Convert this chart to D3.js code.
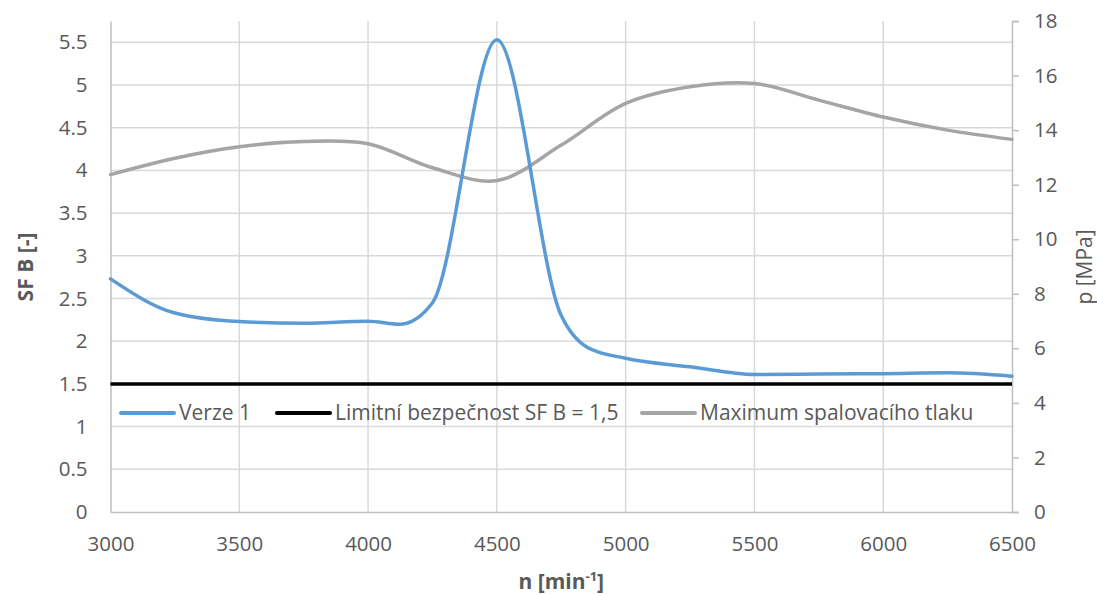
<!DOCTYPE html>
<html>
<head>
<meta charset="utf-8">
<script src="https://cdn.jsdelivr.net/npm/d3@7"></script>
<style>
  html, body { margin: 0; padding: 0; background: #fff; }
  svg text { font-family: "Open Sans", "Noto Sans", sans-serif; fill: #595959; }
</style>
</head>
<body>
<svg id="chart" width="1097" height="594"></svg>
<script>
// ---- data ----
const rpmVerze = [3000, 3250, 3500, 3750, 4000, 4125, 4250, 4500, 4750, 4850, 5000, 5250, 5500, 5750, 6000, 6250, 6500];
const sfVerze  = [2.73, 2.33, 2.23, 2.21, 2.235, 2.20, 2.45, 5.53, 2.30, 1.93, 1.80, 1.70, 1.61, 1.615, 1.62, 1.63, 1.59];

const rpmTlak = [3000, 3250, 3500, 3750, 4000, 4250, 4500, 4750, 5000, 5250, 5500, 5750, 6000, 6250, 6500];
const pTlak   = [12.37, 12.97, 13.39, 13.58, 13.50, 12.62, 12.15, 13.45, 14.98, 15.59, 15.71, 15.10, 14.48, 14.00, 13.66];

const rpmLimit = [3000, 6500];
const sfLimit  = [1.5, 1.5];

const xTicks = [3000, 3500, 4000, 4500, 5000, 5500, 6000, 6500];
const yLeftTicks = [0, 0.5, 1, 1.5, 2, 2.5, 3, 3.5, 4, 4.5, 5, 5.5];
const yRightTicks = [0, 2, 4, 6, 8, 10, 12, 14, 16, 18];

const seriesNames = ["Verze 1", "Limitní bezpečnost SF B = 1,5", "Maximum spalovacího tlaku"];
const seriesColors = ["#5B9BD5", "#000000", "#A5A5A5"];

// ---- layout ----
const svg = d3.select("#chart");
const L = 110.5, R = 1012, T = 21, B = 512;

const x = d3.scaleLinear().domain([3000, 6500]).range([L, R]);
const yL = d3.scaleLinear().domain([0, 5.75]).range([B, T]);
const yR = d3.scaleLinear().domain([0, 18]).range([B, T]);

const fs = 20.5;

// gridlines
const grid = svg.append("g");
grid.selectAll(".hg").data(yLeftTicks.filter(d => d > 0)).enter().append("line")
  .attr("x1", L).attr("x2", R)
  .attr("y1", d => yL(d)).attr("y2", d => yL(d))
  .attr("stroke", "#D9D9D9").attr("stroke-width", 1.5);
grid.selectAll(".vg").data(xTicks.filter(d => d > 3000 && d < 6500)).enter().append("line")
  .attr("x1", d => x(d)).attr("x2", d => x(d))
  .attr("y1", T).attr("y2", B)
  .attr("stroke", "#D9D9D9").attr("stroke-width", 1.5);

// axes
const xAxis = d3.axisBottom(x).tickValues(xTicks).tickSize(0).tickPadding(24).tickFormat(d3.format("d"));
const gx = svg.append("g").attr("transform", `translate(0,${B})`).call(xAxis);
gx.select(".domain").attr("stroke", "#BFBFBF").attr("stroke-width", 1.5);
gx.selectAll("text").style("font-size", fs + "px").attr("fill", "#595959");

const yAxisL = d3.axisLeft(yL).tickValues(yLeftTicks).tickSize(0).tickPadding(23).tickFormat(d => String(d));
const gyl = svg.append("g").attr("transform", `translate(${L},0)`).call(yAxisL);
gyl.select(".domain").attr("stroke", "#BFBFBF").attr("stroke-width", 1.5);
gyl.selectAll("text").style("font-size", fs + "px").attr("fill", "#595959");

const yAxisR = d3.axisRight(yR).tickValues(yRightTicks).tickSize(7).tickPadding(15).tickFormat(d => String(d));
const gyr = svg.append("g").attr("transform", `translate(${R},0)`).call(yAxisR);
gyr.select(".domain").attr("stroke", "#BFBFBF").attr("stroke-width", 1.5);
gyr.selectAll(".tick line").attr("stroke", "#BFBFBF").attr("stroke-width", 1.5);
gyr.selectAll("text").style("font-size", fs + "px").attr("fill", "#595959");
gx.selectAll(".tick line").remove();
gyl.selectAll(".tick line").remove();

// lines
const lineL = d3.line().x(d => x(d[0])).y(d => yL(d[1])).curve(d3.curveMonotoneX);
const lineR = d3.line().x(d => x(d[0])).y(d => yR(d[1])).curve(d3.curveCatmullRom.alpha(0.5));

svg.append("path").datum(d3.zip(rpmTlak, pTlak))
  .attr("d", lineR).attr("fill", "none").attr("stroke", seriesColors[2])
  .attr("stroke-width", 3.5).attr("stroke-linecap", "round");
svg.append("path").datum(d3.zip(rpmLimit, sfLimit))
  .attr("d", lineL).attr("fill", "none").attr("stroke", seriesColors[1])
  .attr("stroke-width", 3.5);
svg.append("path").datum(d3.zip(rpmVerze, sfVerze))
  .attr("d", lineL).attr("fill", "none").attr("stroke", seriesColors[0])
  .attr("stroke-width", 3.5).attr("stroke-linecap", "round");

// legend
const legY = 413;
const legX = [121, 277, 642];
const leg = svg.append("g");
seriesNames.forEach((name, i) => {
  leg.append("line").attr("x1", legX[i]).attr("x2", legX[i] + 53)
    .attr("y1", legY).attr("y2", legY)
    .attr("stroke", seriesColors[i]).attr("stroke-width", 4).attr("stroke-linecap", "round");
  leg.append("text").attr("x", legX[i] + 58).attr("y", legY).attr("dy", "0.35em")
    .style("font-size", "21px").text(name);
});

// axis titles
svg.append("text").attr("transform", `translate(33,267) rotate(-90)`)
  .attr("text-anchor", "middle").style("font-size", "21px").style("font-weight", "bold")
  .text("SF B [-]");
svg.append("text").attr("transform", `translate(1092,267) rotate(-90)`)
  .attr("text-anchor", "middle").style("font-size", "21px")
  .text("p [MPa]");
const xt = svg.append("text").attr("x", (L + R) / 2).attr("y", 589)
  .attr("text-anchor", "middle").style("font-size", "21px").style("font-weight", "bold");
xt.append("tspan").text("n [min");
xt.append("tspan").attr("dy", "-8").style("font-size", "13px").text("-1");
xt.append("tspan").attr("dy", "8").text("]");
</script>
</body>
</html>
